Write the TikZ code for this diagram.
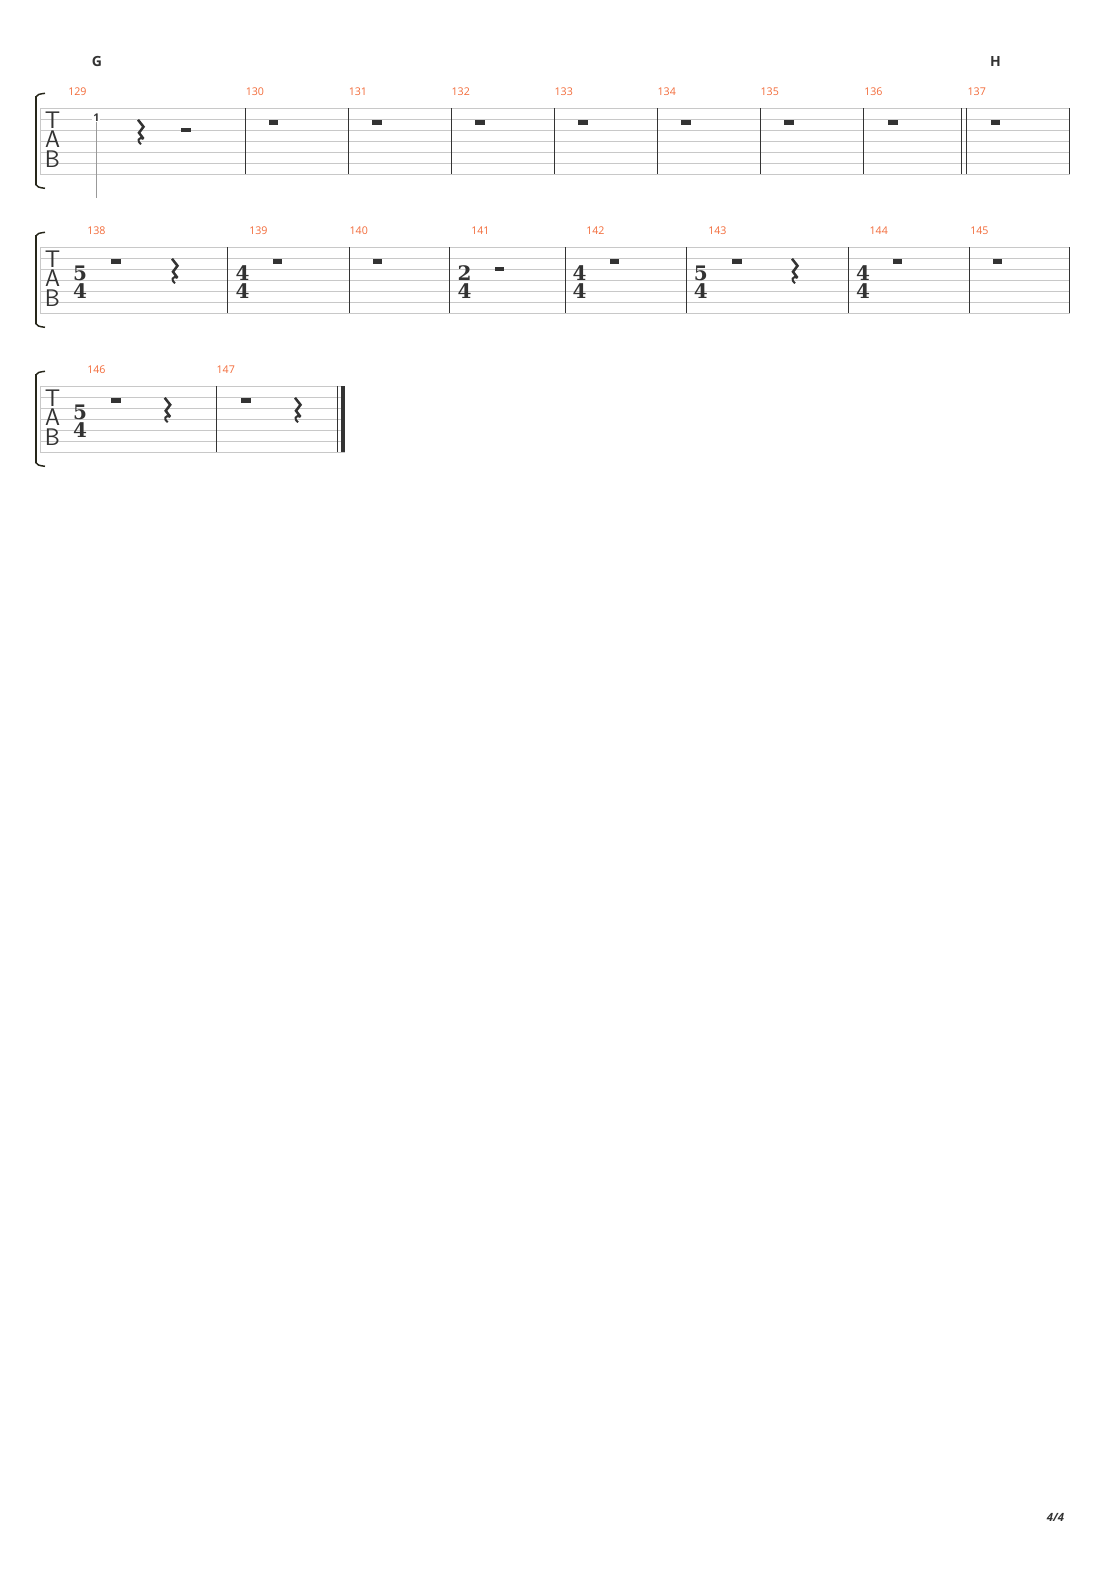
\documentclass[tikz,border=0pt]{standalone}
\usepackage{fontspec}
\usepackage{tikz}
\usetikzlibrary{positioning}
\newfontfamily\numfont{Open Sans}
\newfontfamily\sigfont{DejaVu Serif}
\definecolor{barorange}{HTML}{F26B3A}
\definecolor{inkgray}{HTML}{333333}
\definecolor{linegray}{HTML}{C8C8C8}
\definecolor{bracketink}{HTML}{26261A}

\begin{document}
\begin{tikzpicture}[
x=0.75pt, y=-0.75pt,
staffline/.style={draw=linegray, line width=0.75pt},
barline/.style={draw=inkgray, line width=0.75pt},
barnum/.style={anchor=west, inner sep=0pt, text=barorange, font=\numfont\fontsize{8}{9}\selectfont},
rehearsal/.style={inner sep=0pt, text=inkgray, font=\numfont\bfseries\fontsize{10.5}{12}\selectfont},
tabletter/.style={inner sep=0pt, text height=12.4pt, text depth=0pt, text=inkgray, font=\sffamily\fontsize{18}{18}\selectfont},
timesig/.style={inner sep=0pt, text=inkgray, font=\sigfont\bfseries\fontsize{15}{15}\selectfont},
fretnum/.style={inner sep=0.6pt, fill=white, text=inkgray, font=\numfont\bfseries\fontsize{8}{9}\selectfont},
qrest/.pic={
  \draw[inkgray, line width=1.9pt, line join=miter] (2,0.5) -- (7.5,7.5) -- (3,13.5) -- (7.5,19.5);
  \draw[inkgray, line width=1.5pt] (7.5,19.5) .. controls (2.5,17) and (0.5,22) .. (5,25);
},
]
\useasboundingbox (0,0) rectangle (1110,1570);

%Staves
\foreach \sy/\sr in {108.3/1069.5, 247.3/1069.5, 386.3/345} {
  \foreach \i in {0,...,6}
    \draw[staffline] (40,\sy+\i*11) -- (\sr,\sy+\i*11);
  \draw[staffline] (40,\sy) -- (40,\sy+66);
  \draw[draw=bracketink, line width=2.2pt] (36,\sy-12) -- (36,\sy+77);
  \draw[draw=bracketink, line width=1.1pt] (35.5,\sy-11) .. controls (38,\sy-14) .. (45,\sy-15);
  \draw[draw=bracketink, line width=1.1pt] (35.5,\sy+76) .. controls (38,\sy+79) .. (45,\sy+80);
  \node[tabletter] (T\sy) at (52.5,\sy+11.7) {T};
  \node[tabletter] (A\sy) at (52.5,\sy+31) {A};
  \node[tabletter] (B\sy) at (52.5,\sy+51.2) {B};
}

%Bar lines
\foreach \x in {245.3,348.3,451,554,657,760,863.3,961.7,966.7,1069.5}
  \draw[barline] (\x,108.3) -- (\x,174.3);
\foreach \x in {227.3,349.3,449.3,565.5,686.7,848.3,969.3,1069.5}
  \draw[barline] (\x,247.3) -- (\x,313.3);
\foreach \x in {216,337.3}
  \draw[barline] (\x,386.3) -- (\x,452.3);
\fill[inkgray] (340.8,386.3) rectangle (345,452.3);

%Measure numbers
\foreach \n/\x in {129/68,130/245.5,131/348.5,132/451.3,133/554.3,134/657.3,135/760.3,136/864,137/967.3}
  \node[barnum] (m\n) at (\x,92) {\n};
\foreach \n/\x in {138/87,139/249,140/349.3,141/471,142/586,143/708,144/869.3,145/970}
  \node[barnum] (m\n) at (\x,231) {\n};
\foreach \n/\x in {146/87,147/216.3}
  \node[barnum] (m\n) at (\x,370) {\n};

%Sections
\node[rehearsal] (secG) at (97,62) {G};
\node[rehearsal] (secH) at (995.5,62) {H};

%Time signatures
\foreach \x/\sy/\up/\dn in {80/247.3/5/4, 242.5/247.3/4/4, 464.5/247.3/2/4, 579.5/247.3/4/4, 700.7/247.3/5/4, 863/247.3/4/4, 80/386.3/5/4} {
  \node[timesig] at (\x,\sy+26.2) {\up};
  \node[timesig] at (\x,\sy+44.2) {\dn};
}

%Rests
\foreach \x/\sy in {273.5/108.3, 377/108.3, 480/108.3, 583/108.3, 686/108.3, 789/108.3, 892.8/108.3, 995.5/108.3,
  116/247.3, 277.5/247.3, 377.5/247.3, 614.5/247.3, 737/247.3, 897.7/247.3, 997.5/247.3,
  116/386.3, 246/386.3}
  \fill[inkgray] (\x-4.7,\sy+11.8) rectangle (\x+4.7,\sy+16.6);
\foreach \x/\sy in {186/108.3, 499.5/247.3}
  \fill[inkgray] (\x-4.7,\sy+19.2) rectangle (\x+4.7,\sy+23.8);
\foreach \x/\sy in {136/108.3, 170/247.3, 790/247.3, 162.7/386.3, 293/386.3}
  \pic at (\x,\sy+11) {qrest};

%Fret and stem
\node[fretnum] (fret) at (96.3,117.3) {1};
\coordinate (stemend) at (96.3,197.6);
\draw[draw=gray!80, line width=0.6pt] (fret.south) -- (stemend);

%Page number
\node[inner sep=0pt, text=inkgray, font=\numfont\bfseries\itshape\fontsize{8.5}{10}\selectfont] (pagenum) at (1055.5,1517.5) {4/4};
\end{tikzpicture}
\end{document}
